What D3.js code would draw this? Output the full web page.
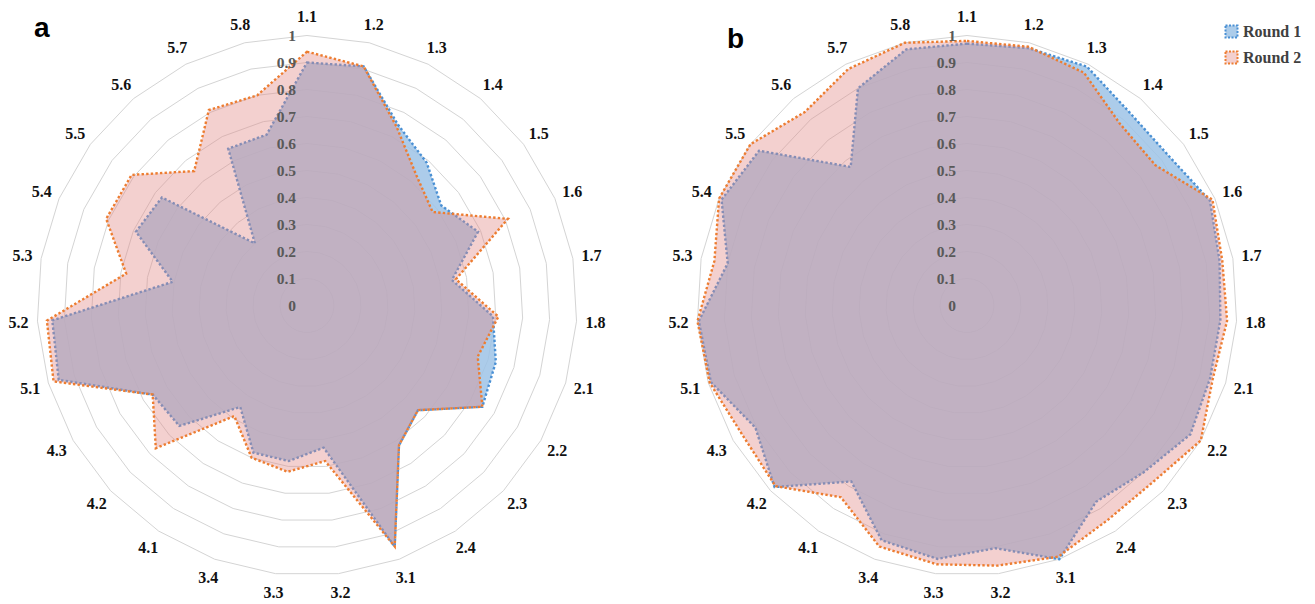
<!DOCTYPE html>
<html>
<head>
<meta charset="utf-8">
<script src="https://cdn.jsdelivr.net/npm/d3@7"></script>
<style>
    body { margin: 0; background: #fff; }
    svg { display: block; }
</style>
</head>
<body>
<svg id="Target" width="1315" height="604"></svg>
<script>
// categories around the radar (clockwise from top)
var categories = ["1.1", "1.2", "1.3", "1.4", "1.5", "1.6", "1.7", "1.8",
    "2.1", "2.2", "2.3", "2.4", "3.1", "3.2", "3.3", "3.4",
    "4.1", "4.2", "4.3", "5.1", "5.2", "5.3", "5.4", "5.5", "5.6", "5.7", "5.8"];
var tickValues = [0, 0.1, 0.2, 0.3, 0.4, 0.5, 0.6, 0.7, 0.8, 0.9, 1];
var tickLabels = ["0", "0.1", "0.2", "0.3", "0.4", "0.5", "0.6", "0.7", "0.8", "0.9", "1"];
var seriesNames = ["Round 1", "Round 2"];

// panel a
var aRound1 = [0.90, 0.91, 0.75, 0.69, 0.62, 0.69, 0.545, 0.69,
    0.73, 0.75, 0.565, 0.62, 0.95, 0.53, 0.58, 0.58,
    0.45, 0.65, 0.66, 0.96, 0.945, 0.505, 0.69, 0.67, 0.30, 0.65, 0.65];
var aRound2 = [0.94, 0.91, 0.74, 0.63, 0.58, 0.81, 0.56, 0.71,
    0.66, 0.75, 0.565, 0.62, 0.95, 0.58, 0.62, 0.60,
    0.49, 0.77, 0.66, 0.98, 0.965, 0.68, 0.81, 0.81, 0.65, 0.81, 0.80];
// panel b
var bRound1 = [0.97, 0.98, 0.99, 0.935, 0.93, 0.98, 0.95, 0.94,
    0.94, 0.955, 0.90, 0.87, 1.0, 0.905, 0.945, 0.925,
    0.78, 0.98, 0.905, 0.99, 0.995, 0.90, 0.99, 0.96, 0.67, 0.90, 0.975];
var bRound2 = [0.98, 0.985, 0.965, 0.88, 0.87, 0.99, 0.96, 0.965,
    0.95, 1.0, 0.95, 0.95, 0.99, 0.97, 0.965, 0.95,
    0.85, 0.975, 0.96, 0.995, 1.0, 0.95, 1.0, 1.0, 0.935, 0.98, 1.0];

var svg = d3.select("#Target");
svg.append("rect").attr("width", 1315).attr("height", 604).attr("fill", "#fff");

var R = 270;
var rScale = d3.scaleLinear().domain([0, 1]).range([0, R]);
var angleScale = d3.scaleLinear()
    .domain([0, categories.length])
    .range([0, 2 * Math.PI]);

var styles = [
    { fill: "#9dc3e6", fillOpacity: 0.85, stroke: "#4a90d4" },
    { fill: "#e08a86", fillOpacity: 0.4, stroke: "#ed7d31" }
];

var radarLine = d3.lineRadial()
    .angle(function (d, i) { return angleScale(i); })
    .radius(function (d) { return rScale(d); })
    .curve(d3.curveLinearClosed);

var drawRadar = function (cx, cy, series, letter, lx, ly) {
    var g = svg.append("g").attr("transform", "translate(" + cx + "," + cy + ")");

    // grid polygons
    g.selectAll("path.grid")
        .data(tickValues.slice(1))
        .enter()
        .append("path")
        .attr("class", "grid")
        .attr("d", function (v) {
            return radarLine(categories.map(function () { return v; }));
        })
        .attr("fill", "none")
        .attr("stroke", "#d4d4d4")
        .attr("stroke-width", 1);

    // series, round 1 first so round 2 lies on top
    series.forEach(function (values, k) {
        g.append("path")
            .attr("d", radarLine(values))
            .attr("fill", styles[k].fill)
            .attr("fill-opacity", styles[k].fillOpacity)
            .attr("stroke", "none");
        g.append("path")
            .attr("d", radarLine(values))
            .attr("fill", "none")
            .attr("stroke", styles[k].stroke)
            .attr("stroke-width", 2.4)
            .attr("stroke-dasharray", "2.4 2.2")
            .attr("stroke-linejoin", "miter");
    });

    // value labels along the top spoke
    g.selectAll("text.tick")
        .data(tickValues)
        .enter()
        .append("text")
        .attr("class", "tick")
        .attr("x", -11)
        .attr("y", function (v) { return -rScale(v); })
        .attr("dy", "0.35em")
        .attr("text-anchor", "end")
        .attr("font-family", "'Liberation Serif', 'Times New Roman', serif")
        .attr("font-weight", "bold")
        .attr("font-size", 15.5)
        .attr("fill", "#595959")
        .text(function (v, i) { return tickLabels[i]; });

    // category labels
    g.selectAll("text.cat")
        .data(categories)
        .enter()
        .append("text")
        .attr("class", "cat")
        .attr("x", function (d, i) { return 289 * Math.sin(angleScale(i)); })
        .attr("y", function (d, i) { return -289 * Math.cos(angleScale(i)); })
        .attr("dy", "0.35em")
        .attr("text-anchor", "middle")
        .attr("font-family", "'Liberation Serif', 'Times New Roman', serif")
        .attr("font-weight", "bold")
        .attr("font-size", 16)
        .attr("fill", "#111")
        .text(function (d) { return d; });

    svg.append("text")
        .attr("x", lx)
        .attr("y", ly)
        .attr("font-family", "'Liberation Sans', Arial, sans-serif")
        .attr("font-weight", "bold")
        .attr("font-size", 28)
        .attr("fill", "#000")
        .text(letter);
};

drawRadar(307, 305.5, [aRound1, aRound2], "a", 34, 37);
drawRadar(967, 305.5, [bRound1, bRound2], "b", 727, 48);

// legend
var legend = svg.append("g").attr("transform", "translate(1225, 25)");
seriesNames.forEach(function (name, k) {
    var row = legend.append("g").attr("transform", "translate(0," + (k * 26) + ")");
    row.append("rect")
        .attr("x", 0.5)
        .attr("y", 0.5)
        .attr("width", 12)
        .attr("height", 12)
        .attr("fill", styles[k].fill)
        .attr("fill-opacity", styles[k].fillOpacity)
        .attr("stroke", styles[k].stroke)
        .attr("stroke-width", 2)
        .attr("stroke-dasharray", "2 1.5");
    row.append("text")
        .attr("x", 18)
        .attr("y", 6.5)
        .attr("dy", "0.35em")
        .attr("font-family", "'Liberation Serif', 'Times New Roman', serif")
        .attr("font-weight", "bold")
        .attr("font-size", 16)
        .attr("fill", "#404040")
        .text(name);
});
</script>
</body>
</html>
